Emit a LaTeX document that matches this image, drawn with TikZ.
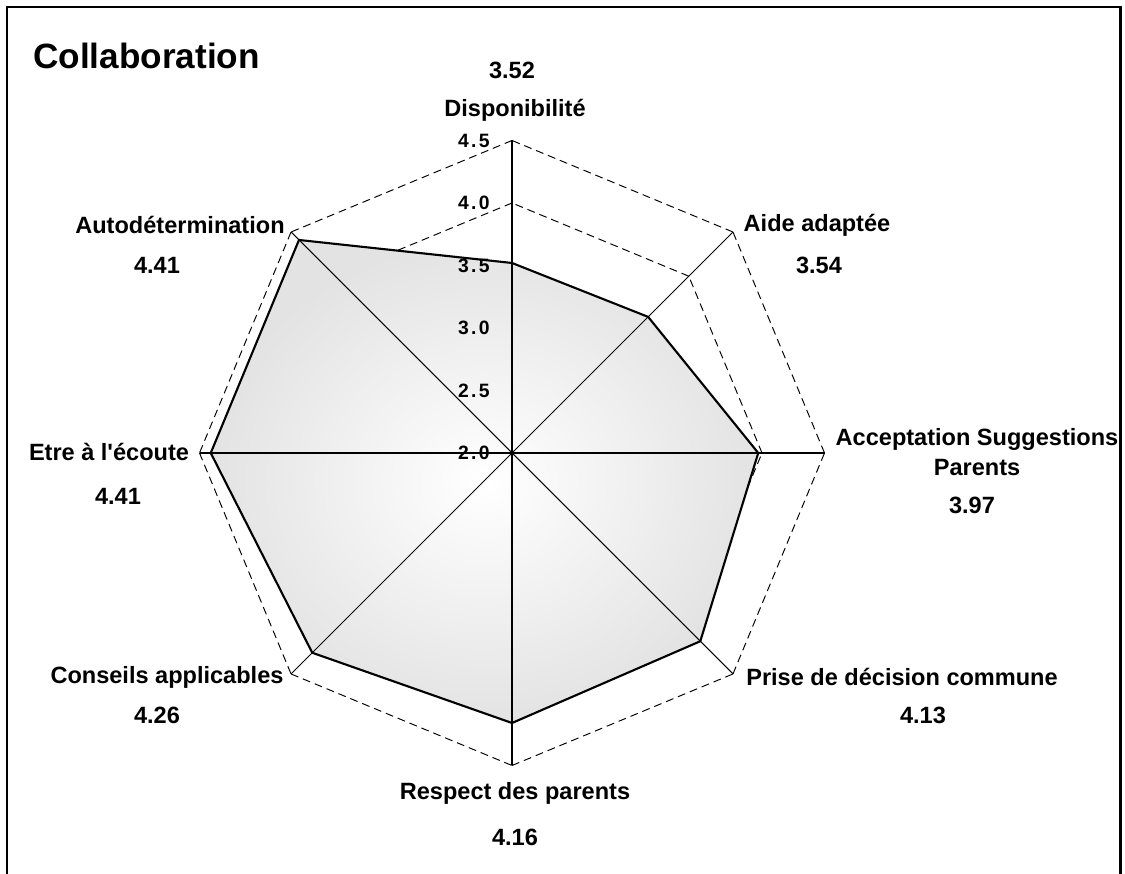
\documentclass[tikz,border=0pt]{standalone}
\usepackage{fontspec}
\setmainfont{Liberation Sans}
\newfontfamily\tickfont[LetterSpace=12]{Liberation Sans}
\usetikzlibrary{calc,positioning}

\begin{document}
\begin{tikzpicture}[x=0.02cm,y=0.02cm]

\tikzset{gridline/.style={line width=0.55pt, dash pattern=on 4.5pt off 2.8pt},
spoke/.style={line width=0.6pt},
outline/.style={line width=1.2pt, line join=miter},
lbl/.style={font=\fontsize{13.4}{17}\selectfont\bfseries, align=center, inner sep=0pt},
tick/.style={font=\tickfont\bfseries\fontsize{11}{13}\selectfont, inner sep=0pt, anchor=east}}

\useasboundingbox (0,0) rectangle (1125,874);

% frame
\draw[line width=0.7pt] (7,-5) -- (7,867) -- (1120,867);
\draw[line width=1.6pt] (1120.5,868) -- (1120.5,-5);

\coordinate (c) at (512,421);

% dashed grid, one edge at a time
\foreach \lvl in {2.5,3,3.5,4,4.5}
  \foreach \k in {0,...,7}
    \draw[gridline] ($(c)+(\k*45:{(\lvl-2)*125})$) -- ($(c)+(\k*45+45:{(\lvl-2)*125})$);

\foreach \n/\a/\v in {dispo/90/3.52, aide/45/3.54, accep/0/3.97, prise/-45/4.13, resp/-90/4.16, cons/-135/4.26, etre/180/4.41, auto/135/4.41}
  \coordinate (\n) at ($(c)+(\a:{(\v-2)*125})$);

\fill[shading=radial, inner color=white, outer color=black!11]
  (dispo) -- (aide) -- (accep) -- (prise) -- (resp) -- (cons) -- (etre) -- (auto) -- cycle;

\foreach \k in {0,...,7}
  \draw[spoke] (c) -- ($(c)+(\k*45:312.5)$);

\draw[outline] (dispo) -- (aide) -- (accep) -- (prise) -- (resp) -- (cons) -- (etre) -- (auto) -- cycle;

\fill (c) circle (1.6);

% scale
\foreach \t [count=\i] in {2.0,2.5,3.0,3.5,4.0,4.5}
  \node[tick] (t\i) at ($(c)+(-22,{(\i-1)*62.5})$) {\t};

\node[lbl, anchor=west, font=\fontsize{20}{24}\selectfont\bfseries] (title) at (33,818) {Collaboration};

\node[lbl] (ldispo) at (515,764) {Disponibilit\'e};
\node[lbl] (vdispo) at (512,804) {3.52};
\node[lbl] (laide) at (817,649) {Aide adapt\'ee};
\node[lbl] (vaide) at (819,609) {3.54};
\node[lbl] (laccep) at (977,422) {Acceptation Suggestions\\Parents};
\node[lbl] (vaccep) at (972,369) {3.97};
\node[lbl] (lprise) at (902,197) {Prise de d\'ecision commune};
\node[lbl] (vprise) at (923,159) {4.13};
\node[lbl] (lresp) at (515,81) {Respect des parents};
\node[lbl] (vresp) at (515,37) {4.16};
\node[lbl] (lcons) at (167,197) {Conseils applicables};
\node[lbl] (vcons) at (157,159) {4.26};
\node[lbl] (letre) at (109,422) {Etre \`a l\textquotesingle\'ecoute};
\node[lbl] (vetre) at (118,378) {4.41};
\node[lbl] (lauto) at (180,649) {Autod\'etermination};
\node[lbl] (vauto) at (157,609) {4.41};

\end{tikzpicture}
\end{document}
